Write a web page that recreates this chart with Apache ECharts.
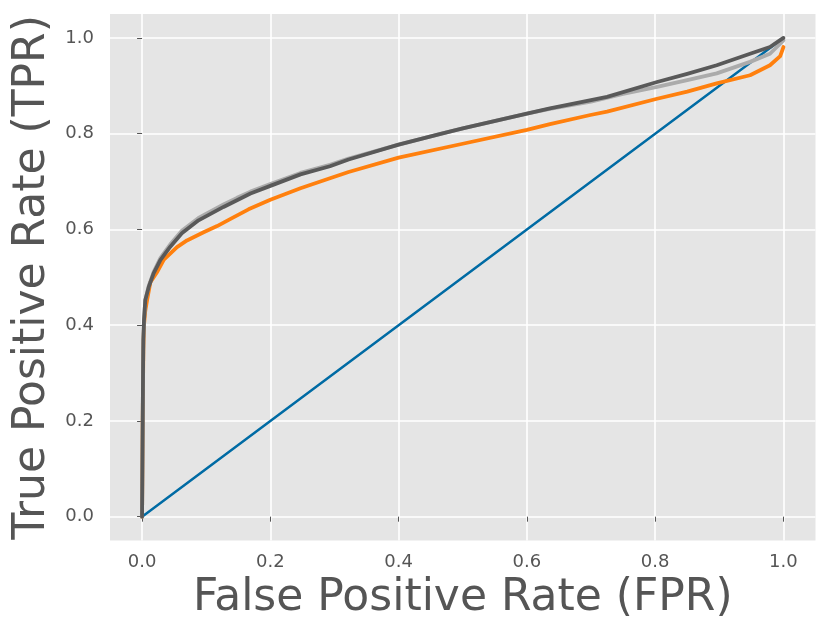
<!DOCTYPE html>
<html style="height: 100%">
<head>
<meta charset="utf-8">
</head>
<body style="height: 100%; margin: 0; background: #fff">
	<div id="container" style="width: 830px; height: 638px"></div>
	<script type="text/javascript" src="https://cdn.jsdelivr.net/npm/echarts@6/dist/echarts.min.js"></script>
	<script type="text/javascript">
		// ROC curves, values
		var tickValues = [0, 0.2, 0.4, 0.6, 0.8, 1.0];

		var chanceFpr = [0, 1];
		var chanceTpr = [0, 1];

		var orangeFpr = [0, 0.0005, 0.001, 0.002, 0.003, 0.005, 0.0078, 0.013, 0.023, 0.034, 0.0545, 0.07, 0.096, 0.117, 0.138, 0.166, 0.2, 0.247, 0.293, 0.322, 0.4, 0.5, 0.6, 0.636, 0.699, 0.725, 0.803, 0.85, 0.896, 0.948, 0.979, 0.995, 1.0];
		var orangeTpr = [0, 0.1, 0.2, 0.35, 0.4, 0.43, 0.452, 0.49, 0.51, 0.537, 0.563, 0.577, 0.594, 0.607, 0.622, 0.642, 0.662, 0.686, 0.707, 0.72, 0.75, 0.779, 0.808, 0.82, 0.839, 0.846, 0.873, 0.888, 0.905, 0.922, 0.943, 0.962, 0.981];

		var lightFpr = [0, 0.0005, 0.001, 0.0015, 0.002, 0.003, 0.005, 0.0104, 0.018, 0.0285, 0.044, 0.062, 0.088, 0.127, 0.148, 0.169, 0.2, 0.247, 0.293, 0.322, 0.4, 0.467, 0.5, 0.6, 0.636, 0.7, 0.75, 0.803, 0.85, 0.896, 0.948, 0.979, 1.0];
		var lightTpr = [0, 0.1, 0.2, 0.3, 0.37, 0.41, 0.452, 0.482, 0.511, 0.54, 0.569, 0.597, 0.624, 0.652, 0.666, 0.679, 0.695, 0.718, 0.735, 0.748, 0.777, 0.8, 0.811, 0.842, 0.852, 0.867, 0.883, 0.898, 0.912, 0.926, 0.95, 0.967, 0.995];

		var darkFpr = [0, 0.0005, 0.001, 0.0015, 0.002, 0.003, 0.005, 0.0104, 0.018, 0.0285, 0.044, 0.062, 0.088, 0.127, 0.148, 0.169, 0.2, 0.247, 0.293, 0.322, 0.4, 0.467, 0.5, 0.6, 0.636, 0.7, 0.725, 0.803, 0.85, 0.896, 0.948, 0.979, 1.0];
		var darkTpr = [0, 0.1, 0.2, 0.3, 0.37, 0.41, 0.452, 0.48, 0.508, 0.536, 0.564, 0.592, 0.619, 0.647, 0.661, 0.675, 0.691, 0.715, 0.732, 0.746, 0.777, 0.8, 0.811, 0.842, 0.853, 0.87, 0.877, 0.908, 0.925, 0.943, 0.967, 0.981, 1.0];

		function pairs(xs, ys) {
			var out = [];
			for (var i = 0; i < xs.length; i++) {
				out.push([xs[i], ys[i]]);
			}
			return out;
		}

		function curve(name, xs, ys, color, width) {
			return {
				name: name,
				type: 'line',
				data: pairs(xs, ys),
				showSymbol: false,
				symbol: 'none',
				lineStyle: { color: color, width: width, cap: 'round', join: 'round' },
				z: 2
			};
		}

		var font = 'DejaVu Sans';
		var axisCommon = {
			type: 'value',
			min: -0.05,
			max: 1.05,
			axisLine: { show: false },
			axisTick: {
				show: true,
				length: 5,
				customValues: tickValues,
				lineStyle: { color: '#555555', width: 1 }
			},
			axisLabel: {
				customValues: tickValues,
				color: '#555555',
				fontSize: 18,
				fontFamily: font,
				formatter: function (v) { return v.toFixed(1); }
			},
			splitLine: { show: true, lineStyle: { color: '#ffffff', width: 1.6 } },
			nameLocation: 'middle',
			nameTextStyle: { color: '#555555', fontSize: 44, fontFamily: font }
		};

		var dom = document.getElementById("container");
		var myChart = echarts.init(dom);
		var option = {
			animation: false,
			textStyle: { fontFamily: font },
			grid: {
				left: 110, right: 14.5, top: 14, bottom: 97.4,
				show: true, backgroundColor: '#e5e5e5', borderWidth: 0
			},
			xAxis: echarts.util.merge({
				name: 'False Positive Rate (FPR)',
				nameGap: 34,
				axisLabel: { margin: 13 }
			}, axisCommon),
			yAxis: echarts.util.merge({
				name: 'True Positive Rate (TPR)',
				nameGap: 53,
				axisLabel: { margin: 16 }
			}, axisCommon),
			series: [
				curve('chance', chanceFpr, chanceTpr, '#006ba4', 2.5),
				curve('model A', orangeFpr, orangeTpr, '#ff800e', 3.8),
				curve('model B', lightFpr, lightTpr, '#ababab', 3.8),
				curve('model C', darkFpr, darkTpr, '#595959', 3.8)
			]
		};
		myChart.setOption(option, true);
	</script>
</body>
</html>
